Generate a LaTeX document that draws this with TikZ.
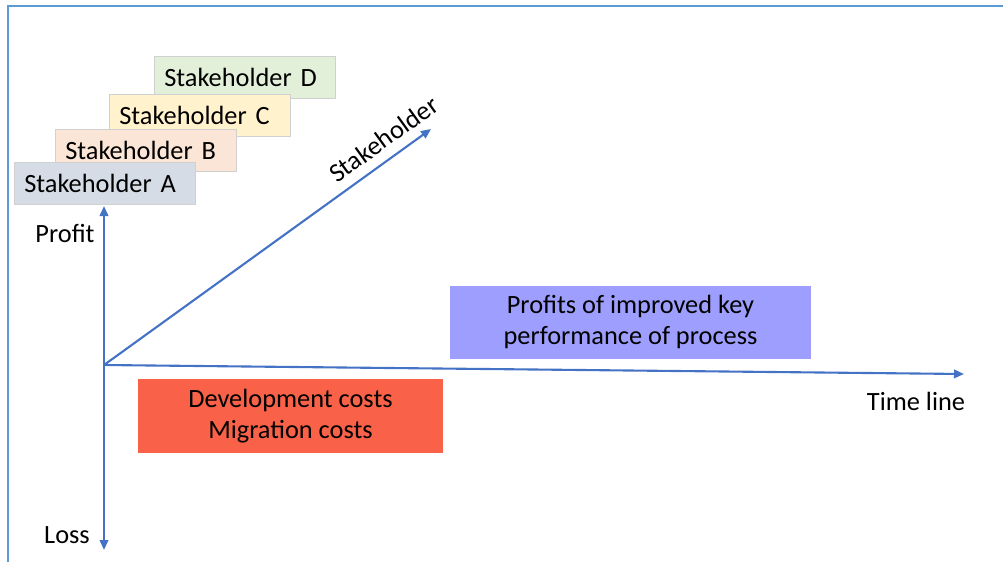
\documentclass[tikz,border=0pt]{standalone}
\usepackage{fontspec}
\setmainfont{Carlito}
\usepackage{tikz}
\usetikzlibrary{arrows.meta, positioning}
\definecolor{axisblue}{HTML}{4472C4}
\definecolor{framebl}{HTML}{5B9BD5}
\definecolor{shA}{HTML}{D6DCE5}
\definecolor{shB}{HTML}{FBE5D6}
\definecolor{shC}{HTML}{FFF2CC}
\definecolor{shD}{HTML}{E2F0D9}
\definecolor{gainblue}{HTML}{9E9EFF}
\definecolor{costred}{HTML}{F96149}
\definecolor{boxgray}{HTML}{D0D0D0}

\begin{document}
\begin{tikzpicture}[x=0.02cm, y=-0.02cm,
    font=\fontsize{15}{17.8}\selectfont,
    shbox/.style={rectangle, draw=boxgray, fill=#1, anchor=north west, inner xsep=0.2cm, inner ysep=0pt,
                  text width=3.22cm, minimum height=0.84cm},
    infobox/.style={rectangle, fill=#1, align=center},
    axis/.style={-{Triangle[length=2mm, width=1.7mm]}, line width=1.2pt, color=axisblue}
]
\useasboundingbox (0,0) rectangle (1003,562);
% partial frame
\draw[framebl, line width=1.1pt] (8,562) -- (8,6) -- (1003,6);

% stakeholder stack
\node[shbox=shD] (shd) at (154,56)  {Stakeholder D};
\node[shbox=shC] (shc) at (109,94)  {Stakeholder C};
\node[shbox=shB] (shb) at (55,129)  {Stakeholder B};
\node[shbox=shA] (sha) at (14,162)  {Stakeholder A};

% axes
\coordinate (origin)    at (104,365);
\coordinate (profitend) at (104,206);
\coordinate (lossend)   at (104,550);
\coordinate (timeend)   at (964,374);
\coordinate (stakeend)  at (431,129);

\draw[axis] (origin) -- (profitend);
\draw[axis] (origin) -- (lossend);
\draw[axis] (origin) -- (timeend);
\draw[axis] (origin) -- node[sloped, above=2pt, pos=0.89, text=black] (stakelbl) {Stakeholder} (stakeend);

\node (profit) at (65,233)  {Profit};
\node (loss)   at (67,535)  {Loss};
\node (time)   at (916,401) {Time line};

% effect boxes
\node[infobox=gainblue, minimum width=7.22cm, minimum height=1.46cm] (gain) at (630.5,322)
    {Profits of improved key\\performance of process};
\node[infobox=costred, minimum width=6.1cm, minimum height=1.48cm] (cost) at (290.5,416)
    {Development costs\\Migration costs};
\end{tikzpicture}
\end{document}
